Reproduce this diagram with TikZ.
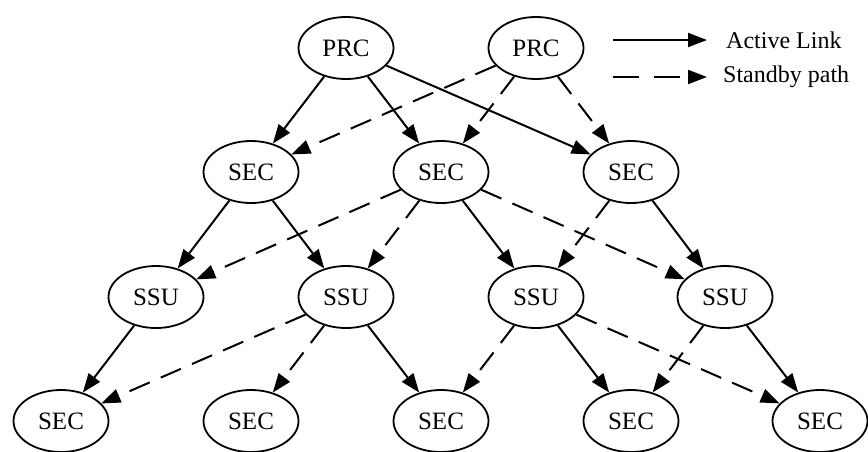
\documentclass[tikz,border=0pt]{standalone}
\usepackage{fontspec}
\setmainfont{Liberation Serif}
\usetikzlibrary{shapes.geometric,arrows.meta}
\begin{document}
\begin{tikzpicture}[x=1pt,y=-1pt,
  unit/.style={ellipse,draw,line width=1.8pt,minimum width=95pt,minimum height=62pt,
    inner sep=0pt,font=\fontsize{25}{30}\selectfont},
  link/.style={line width=2pt,-{Triangle[length=19pt,width=14pt]}},
  active/.style={link},
  standby/.style={link,dash pattern=on 22pt off 12pt},
  legendtext/.style={anchor=west,inner sep=0pt,font=\fontsize{24}{28}\selectfont}]
\useasboundingbox (0,0) rectangle (868,451);

% primary reference clocks
\node[unit] (p1) at (346,48) {PRC};
\node[unit] (p2) at (536,48) {PRC};
% second level
\node[unit] (s1) at (251,172) {SEC};
\node[unit] (s2) at (441,172) {SEC};
\node[unit] (s3) at (631,172) {SEC};
% supply units
\node[unit] (u1) at (156,297) {SSU};
\node[unit] (u2) at (346,297) {SSU};
\node[unit] (u3) at (536,297) {SSU};
\node[unit] (u4) at (725,297) {SSU};
% bottom level
\node[unit] (b1) at (61,421) {SEC};
\node[unit] (b2) at (251,421) {SEC};
\node[unit] (b3) at (441,421) {SEC};
\node[unit] (b4) at (631,421) {SEC};
\node[unit] (b5) at (820,421) {SEC};

% active links
\foreach \a/\b in {p1/s1,p1/s2,p1/s3,s1/u1,s1/u2,s2/u3,s3/u4,u1/b1,u2/b3,u3/b4,u4/b5}
  \draw[active] (\a) -- (\b);
% standby paths
\foreach \a/\b in {p2/s1,p2/s2,p2/s3,s2/u1,s2/u2,s2/u4,s3/u3,u2/b1,u2/b2,u3/b3,u3/b5,u4/b4}
  \draw[standby] (\a) -- (\b);

% legend
\coordinate (la) at (613,40);
\coordinate (lb) at (707,40);
\coordinate (lc) at (613,77);
\coordinate (ld) at (707,77);
\draw[active] (la) -- (lb);
\draw[link,dash pattern=on 26pt off 15pt] (lc) -- (ld);
\node[legendtext] (lt1) at (726,40) {Active Link};
\node[legendtext] (lt2) at (723,77) {Standby path};
\end{tikzpicture}
\end{document}
